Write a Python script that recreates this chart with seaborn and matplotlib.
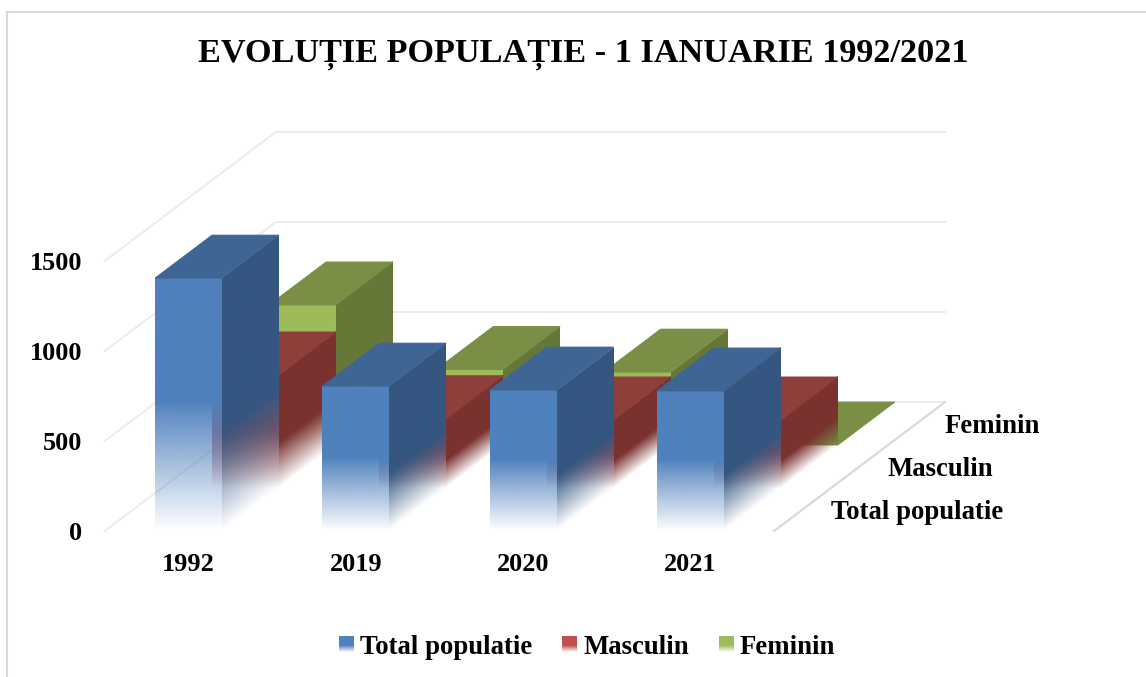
import numpy as np
import pandas as pd
import matplotlib
matplotlib.use("Agg")
import matplotlib.pyplot as plt
from matplotlib.lines import Line2D
from matplotlib.patches import Polygon, Rectangle, Patch
from matplotlib.legend_handler import HandlerBase
from matplotlib.transforms import Affine2D
from matplotlib.colors import to_rgb
import seaborn as sns

# ---- data ----
years = ["1992", "2019", "2020", "2021"]
total = [1405, 805, 783, 778]
masculin = [628, 385, 378, 378]
feminin = [778, 420, 405, 0]
series_names = ["Total populatie", "Masculin", "Feminin"]
y_ticks = [0, 500, 1000, 1500]
title = "EVOLUȚIE POPULAȚIE - 1 IANUARIE 1992/2021"

# ---- style ----
W, H = 1146, 677
sns.set_theme(style="white")
plt.rcParams["font.family"] = ["Liberation Serif", "DejaVu Serif"]
plt.rcParams["font.weight"] = "bold"
plt.rcParams["text.color"] = "black"
fs = 18.9
fs2 = 19.3

front_cols = {"Total populatie": "#4F81BD", "Masculin": "#C0504D", "Feminin": "#9EBB5B"}
top_cols = {"Total populatie": "#3E6594", "Masculin": "#8E3F3A", "Feminin": "#788F45"}
side_cols = {"Total populatie": "#345680", "Masculin": "#7A322F", "Feminin": "#657838"}

fig = plt.figure(figsize=(W / 100, H / 100), dpi=100, facecolor="white")
ax = fig.add_axes([104.8 / W, (H - 531) / H, 669.3 / W, 270 / H])
ax.patch.set_alpha(0)

DX = 57.0 / 167.33   # depth step in category units
DY = 43 / 0.18       # depth step in value units


def fade_image(rgb, frac, step):
    a = np.clip(np.linspace(0, 1, 256) / frac, 0, 1)
    a = np.where(a < 1, a * (1 - step), 1.0)
    img = np.ones((256, 2, 4))
    img[..., :3] = to_rgb(rgb)
    img[..., 3] = a[:, None]
    return img


def face(o, e1, e2, rgb, z, frac=0.5, step=0.03):
    tr = Affine2D.from_values(e1[0], e1[1], e2[0], e2[1], o[0], o[1]) + ax.transData
    im = ax.imshow(fade_image(rgb, frac, step), extent=(0, 1, 0, 1), origin="lower", aspect="auto",
                   interpolation="bilinear", transform=tr, zorder=z, clip_on=False)
    clip = Polygon([o, (o[0] + e1[0], o[1] + e1[1]),
                    (o[0] + e1[0] + e2[0], o[1] + e1[1] + e2[1]),
                    (o[0] + e2[0], o[1] + e2[1])], closed=True, transform=ax.transData)
    im.set_clip_path(clip)
    return im


# walls and floor
gc = "#EBEBEB"
for v in y_ticks:
    ax.plot([-0.5, -0.5 + 3 * DX, 3.5 + 3 * DX],
            [v, v + 3 * DY, v + 3 * DY], color=gc, lw=1.4, clip_on=False, zorder=1)
ax.plot([3.5, 3.5 + 3 * DX], [0, 3 * DY], color="#D9D9D9", lw=1.6, clip_on=False, zorder=1)

# bars, back to front
z = 2
for depth, name, vals in [(2, "Feminin", feminin), (1, "Masculin", masculin), (0, "Total populatie", total)]:
    n0 = len(ax.patches)
    df = pd.DataFrame({"an": years, "val": vals})
    sns.barplot(data=df, x="an", y="val", order=years, width=0.4, color=front_cols[name],
                errorbar=None, ax=ax, saturation=1)
    for bar in ax.patches[n0:]:
        x0, w, h = bar.get_x(), bar.get_width(), bar.get_height()
        ox, oy = x0 + depth * DX, depth * DY
        bar.set_transform(Affine2D().translate(depth * DX, depth * DY) + ax.transData)
        bar.set_facecolor("none")
        bar.set_edgecolor("none")
        bar.set_clip_on(False)
        if h > 0:
            face((ox, oy), (w, 0), (0, h), front_cols[name], z)
            face((ox + w, oy), (DX, DY), (0, h), side_cols[name], z + 0.1, frac=0.4, step=0.0)
        ax.add_patch(Polygon([(ox, oy + h), (ox + w, oy + h), (ox + w + DX, oy + h + DY), (ox + DX, oy + h + DY)],
                             closed=True, facecolor=top_cols[name], edgecolor=top_cols[name], lw=0.6,
                             zorder=z + 0.2, clip_on=False))
    z += 1

ax.set_xlim(-0.5, 3.5)
ax.set_ylim(0, 1500)
ax.set_yticks(y_ticks)
ax.set_xlabel("")
ax.set_ylabel("")
ax.tick_params(axis="both", length=0, labelsize=fs, colors="black")
ax.tick_params(axis="y", pad=16.5)
ax.tick_params(axis="x", pad=16)
for s in ax.spines.values():
    s.set_visible(False)
ax.grid(False)

# depth axis labels
for d, name in enumerate(series_names):
    ax.annotate(name, xy=(3.5 + (d + 0.5) * DX, (d + 0.5) * DY), xytext=(28, -3),
                textcoords="offset pixels", ha="left", va="center", fontsize=fs2,
                fontweight="bold", color="black", annotation_clip=False)


class GradHandler(HandlerBase):
    def create_artists(self, legend, orig, xd, yd, width, height, fontsize, trans):
        out = []
        n = 15
        for i in range(n):
            f = (i + 0.5) / n
            a = min(1.0, f / 0.45)
            out.append(Rectangle((xd * -1, -yd + height * i / n), width, height / n + 0.05,
                                 facecolor=orig.get_facecolor(), alpha=a, edgecolor="none",
                                 linewidth=0, transform=trans))
        return out


handles = [Patch(facecolor=front_cols[n], label=n) for n in series_names]
fig.legend(handles=handles, labels=series_names, ncol=3, frameon=False,
           loc="center", bbox_to_anchor=(587 / W, 1 - 647 / H),
           handler_map={Patch: GradHandler()}, labelcolor="black",
           prop={"family": "Liberation Serif", "weight": "bold", "size": fs2},
           handlelength=0.56, handleheight=0.56, handletextpad=0.22, columnspacing=1.12)

fig.text(583 / W, 1 - 54 / H, title, ha="center", va="center", fontsize=24.7,
         fontweight="bold", color="black")

# outer frame
for xs, ys in [((7, 7), (H, 12)), ((7, W), (12, 12))]:
    fig.add_artist(Line2D([x / W for x in xs], [1 - y / H for y in ys], color="#D9D9D9", lw=1.5))

fig.savefig("out.png", dpi=100)
